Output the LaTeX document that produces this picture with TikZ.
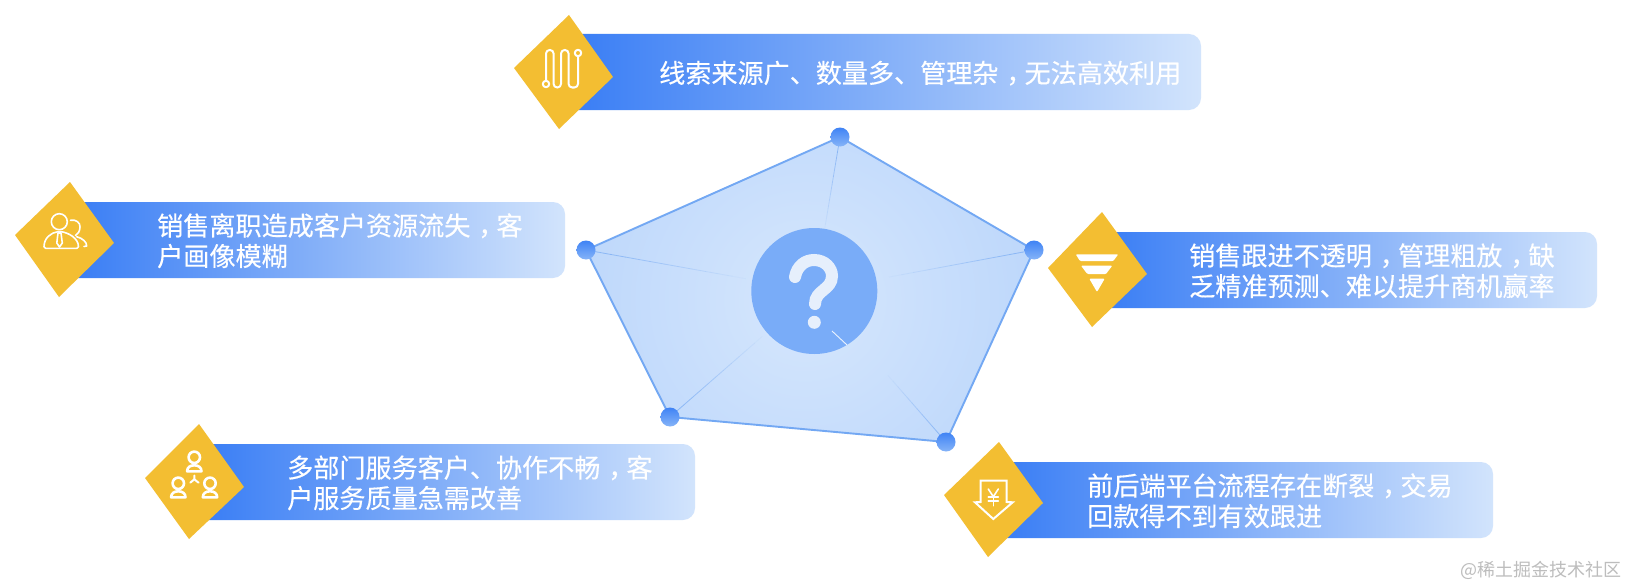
\documentclass[tikz,border=0pt]{standalone}
\usepackage{fontspec}
\setmainfont{Noto Sans CJK SC}
\newfontfamily\barfont[FakeBold=0.35]{Noto Sans CJK SC}
\usetikzlibrary{calc}
\pgfdeclarelayer{back}
\pgfsetlayers{back,main}
\definecolor{barL}{HTML}{3A7EF5}
\definecolor{barR}{HTML}{D2E4FC}
\definecolor{gold}{HTML}{F3BE32}
\definecolor{edgeb}{HTML}{73A8F3}
\definecolor{hubc}{HTML}{79ACF8}
\definecolor{fillin}{HTML}{D6E7FD}
\definecolor{fillout}{HTML}{B2D0FA}
\definecolor{markc}{HTML}{E6EFFC}
\definecolor{ballT}{HTML}{3F83F5}
\definecolor{ballB}{HTML}{86B4F8}
\definecolor{wm}{HTML}{BDBDBD}
\tikzset{
  x=1pt,y=-1pt,
  bartext/.style={text=white,font=\barfont\fontsize{26.1}{30.5}\selectfont,anchor=west,align=left,inner sep=0pt},
  ball/.style={circle,minimum size=19pt,inner sep=0pt,top color=ballT,bottom color=ballB,draw=none},
  hubnode/.style={circle,minimum size=126pt,inner sep=0pt,fill=hubc},
  ico/.style={draw=white,line width=2pt,line cap=round,line join=round},
  icothin/.style={draw=white,line width=1.6pt,line cap=round,line join=round},
  icothick/.style={draw=white,line width=2.6pt,line cap=round,line join=round},
  rim/.style={draw=edgeb,line width=1.9pt,line join=round},
  gem/.style={fill=gold,draw=none},
}
\newcommand{\gradbar}[4]{%
  \shade[left color=barL,right color=barR]
    (#1,#3) -- (#2-12,#3) arc[start angle=90,end angle=0,radius=12pt]
    -- (#2,#4-12) arc[start angle=0,end angle=-90,radius=12pt]
    -- (#1,#4) -- cycle;}
\newcommand{\cm}{\kern8pt，\kern-8pt}
% faded spoke: from node, to node, fraction at which it vanishes
\newcommand{\fadespoke}[3]{%
  \foreach \k in {0,...,11}{%
    \pgfmathsetmacro{\fa}{#3*\k/12}%
    \pgfmathsetmacro{\fb}{#3*(\k+1)/12}%
    \pgfmathsetmacro{\op}{.75*(1-\k/12)}%
    \draw[edgeb,line width=.8pt,opacity=\op] ($(#1)!\fa!(#2)$) -- ($(#1)!\fb!(#2)$);
  }}
\newcommand{\person}[2]{% head centre
  \draw[icothick] (#1,#2) circle (5.7);
  \draw[icothick] (#1-7.2,#2+14) .. controls (#1-7.2,#2+10) and (#1-4,#2+8) .. (#1,#2+8)
     .. controls (#1+4,#2+8) and (#1+7.2,#2+10) .. (#1+7.2,#2+14) -- cycle;}
\begin{document}
\begin{tikzpicture}
\useasboundingbox (0,0) rectangle (1628,586);
\begin{pgfonlayer}{back}
  \fill[white] (0,0) rectangle (1628,586);
\end{pgfonlayer}

% ---------- centre figure ----------
\node[ball] (vT) at (840,137) {};
\node[ball] (vL) at (586,250) {};
\node[ball] (vR) at (1034,250) {};
\node[ball] (vBL) at (670,417) {};
\node[ball] (vBR) at (946,442) {};
\node[hubnode] (hub) at (814.3,291) {};
\begin{pgfonlayer}{back}
  \begin{scope}
    \clip (vT.center) -- (vR.center) -- (vBR.center) -- (vBL.center) -- (vL.center) -- cycle;
    \shade[inner color=fillin,outer color=fillout] (805,300) circle (340);
  \end{scope}
  \draw[rim] (vT.center) -- (vR.center) -- (vBR.center) -- (vBL.center) -- (vL.center) -- cycle;
  \fadespoke{vT}{hub}{.62}
  \fadespoke{vL}{hub}{.70}
  \fadespoke{vR}{hub}{.66}
  \fadespoke{vBL}{hub}{.64}
  \fadespoke{vBR}{hub}{.44}
\end{pgfonlayer}
% question mark
\draw[markc,line width=12pt,line cap=round]
  (795,277) .. controls (797,266) and (805,260) .. (814,260)
  .. controls (825,260) and (832,268) .. (832,276)
  .. controls (832,290) and (815,290) .. (815,304);
\fill[markc] (814.3,322.3) circle (6.5);
\coordinate (tickA) at (832,331);
\coordinate (tickB) at (847,345);
\draw[white!85!hubc,line width=.9pt] (tickA) -- (tickB);

% ---------- bars ----------
\gradbar{575}{1201}{34}{110}
\node[bartext] (t1) at (659,73.2) {线索来源广、数量多、管理杂\cm 无法高效利用};
\gradbar{75}{565}{202}{278}
\node[bartext] (t2) at (157,240.8) {销售离职造成客户资源流失\cm 客\\户画像模糊};
\gradbar{1105}{1597}{232}{308}
\node[bartext] (t3) at (1189,270.8) {销售跟进不透明\cm 管理粗放\cm 缺\\乏精准预测、难以提升商机赢率};
\gradbar{205}{695}{444}{520}
\node[bartext] (t4) at (287,482.8) {多部门服务客户、协作不畅\cm 客\\户服务质量急需改善};
\gradbar{1005}{1493}{462}{538}
\node[bartext] (t5) at (1087,500.8) {前后端平台流程存在断裂\cm 交易\\回款得不到有效跟进};

% ---------- gold diamonds ----------
\fill[gem] (569,15) -- (613,77) -- (559,129) -- (514,68) -- cycle;
\fill[gem] (70,182) -- (114,243) -- (59,297) -- (15,235) -- cycle;
\fill[gem] (1102,212) -- (1147,274) -- (1092,327) -- (1048,268) -- cycle;
\fill[gem] (199,424) -- (244,487) -- (189,539) -- (145,478) -- cycle;
\fill[gem] (999,442) -- (1043,503) -- (988,557) -- (944,495) -- cycle;

% ---------- icon: serpentine ----------
\draw[ico,rounded corners=3.6] (546,81) -- (546,50) -- (553.6,50) -- (553.6,87.5) -- (561,87.5)
  -- (561,50) -- (568.6,50) -- (568.6,87.5) -- (578,87.5) -- (578,56);
\draw[ico] (546,84) circle (3.2);
\draw[ico] (578,53) circle (3.2);

% ---------- icon: people ----------
\draw[icothin] (59.3,221.7) circle (8);
\draw[icothin,rounded corners=1.5] (44,248.3) .. controls (44,238) and (51,232.5) .. (59.5,231.5)
  .. controls (68,232.5) and (78.5,238) .. (78.5,248.3) -- cycle;
\draw[icothin] (58,233) -- (61,233) -- (62.3,243) -- (59.5,247) -- (56.8,243) -- cycle;
\draw[icothin] (70.5,220.3) .. controls (76,219) and (80.5,223) .. (80,227) .. controls (80,231) and (78,234) .. (75.5,235.5);
\draw[icothin] (76.7,236.7) .. controls (82,238) and (87,242) .. (86.7,246) -- (84,246.5);

% ---------- icon: funnel ----------
\fill[white,rounded corners=1] (1075.7,254.3) -- (1118.3,254.3) -- (1113.3,261) -- (1080,261) -- cycle;
\fill[white,rounded corners=1] (1081,265.7) -- (1112.3,265.7) -- (1106,274) -- (1087.3,274) -- cycle;
\fill[white,rounded corners=1] (1089.3,278.7) -- (1104.7,278.7) -- (1097,292) -- cycle;

% ---------- icon: three people ----------
\person{194.3}{457.3}
\person{178.3}{483.3}
\person{210}{483.3}
\draw[icothin,line width=2pt] (194.3,475.5) -- (194.3,479.3) -- (190.3,482.7);
\draw[icothin,line width=2pt] (194.3,479.3) -- (198.6,482.7);

% ---------- icon: yen arrow ----------
\draw[ico,line join=miter] (980.7,480.7) -- (1006.7,480.7) -- (1006.7,502) -- (1012.7,502.3) -- (993.3,519)
  -- (975,502.3) -- (980.7,502) -- cycle;
\draw[icothin] (988.3,489) -- (993.3,496.7) -- (998.3,489);
\draw[icothin] (988.3,497) -- (998.3,497);
\draw[icothin] (988.3,500.8) -- (998.3,500.8);
\draw[icothin] (993.3,496.7) -- (993.3,505.7);

% ---------- watermark ----------
\node[text=wm,font=\fontsize{18}{20}\selectfont,anchor=east,inner sep=0pt] (wmk) at (1622,570) {@稀土掘金技术社区};
\end{tikzpicture}
\end{document}
